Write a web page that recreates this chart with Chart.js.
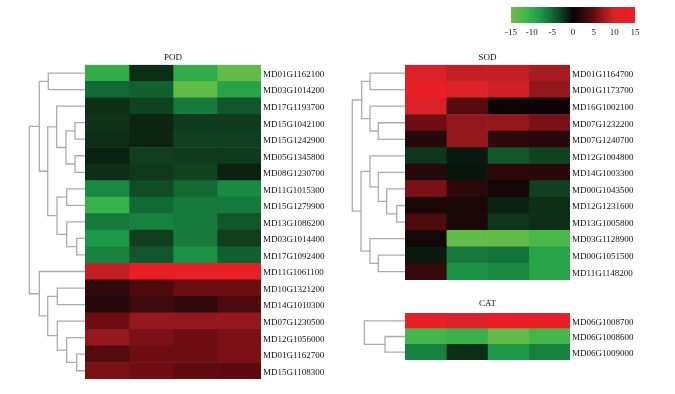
<!DOCTYPE html>
<html>
<head>
<meta charset="utf-8">
<script src="https://cdn.jsdelivr.net/npm/chart.js@4.4.1/dist/chart.umd.min.js"></script>
<style>
  body { margin: 0; background: #fff; }
  #wrap { position: relative; width: 675px; height: 394px; overflow: hidden; }
  canvas { position: absolute; }
</style>
</head>
<body>
<div id="wrap">
  <canvas id="podTree" style="left:25px;top:0;width:60px;height:394px" width="60" height="394"></canvas>
  <canvas id="podHeat" style="left:85px;top:0;width:251px;height:394px" width="251" height="394"></canvas>
  <canvas id="sodTree" style="left:349px;top:0;width:56px;height:290px" width="56" height="290"></canvas>
  <canvas id="sodHeat" style="left:405px;top:0;width:240px;height:290px" width="240" height="290"></canvas>
  <canvas id="catTree" style="left:349px;top:285px;width:56px;height:85px" width="56" height="85"></canvas>
  <canvas id="catHeat" style="left:405px;top:285px;width:240px;height:85px" width="240" height="85"></canvas>
  <canvas id="scaleChart" style="left:490px;top:0;width:175px;height:45px" width="175" height="45"></canvas>
</div>
<script>
// heat values (4 columns per gene)
const podGenes = ['MD01G1162100', 'MD03G1014200', 'MD17G1193700', 'MD15G1042100', 'MD15G1242900',
  'MD05G1345800', 'MD08G1230700', 'MD11G1015300', 'MD15G1279900', 'MD13G1086200', 'MD03G1014400',
  'MD17G1092400', 'MD11G1061100', 'MD10G1321200', 'MD14G1010300', 'MD07G1230500', 'MD12G1056000',
  'MD01G1162700', 'MD15G1108300'];
const podValues = [
  [-10, -2, -10, -14],
  [-5, -4.5, -14, -9],
  [-2, -3, -6, -4],
  [-2.2, -1.5, -2.6, -2.6],
  [-2, -1.5, -2.8, -2.8],
  [-1.3, -2.7, -2.6, -2.5],
  [-2, -2.4, -3, -1.3],
  [-7, -3.5, -5, -7],
  [-10.5, -5, -6, -6],
  [-6, -6.5, -6, -4],
  [-8, -2.7, -6, -2.7],
  [-6.5, -4, -7.5, -4.5],
  [9, 14, 14, 14],
  [2.5, 4, 5.3, 5.3],
  [2, 3.2, 2.5, 4],
  [5.5, 7, 7, 7],
  [7, 6, 5.5, 6],
  [4.2, 5.5, 5.5, 6],
  [6, 5.5, 5, 4.8]
];
// merges: [childA, childB, height]; ids >= n are earlier merges
const podMerges = [
  [0, 1, 36.7], [3, 4, 10], [5, 6, 10], [20, 21, 19], [2, 22, 28.3],
  [7, 8, 18.3], [10, 11, 8.3], [9, 25, 18.3], [24, 26, 28], [23, 27, 37.3],
  [19, 28, 45.7], [17, 18, 8.3], [16, 30, 18.3], [15, 31, 27.7], [13, 14, 27.7],
  [33, 32, 37.3], [12, 34, 45.7], [29, 35, 55.7]
];

const sodGenes = ['MD01G1164700', 'MD01G1173700', 'MD16G1002100', 'MD07G1232200', 'MD07G1240700',
  'MD12G1004800', 'MD14G1003300', 'MD00G1043500', 'MD12G1231600', 'MD13G1005800', 'MD03G1128900',
  'MD00G1051500', 'MD11G1148200'];
const sodValues = [
  [10, 9, 9, 7.8],
  [14, 10.5, 9.5, 7],
  [10, 4.5, 0.5, 0.5],
  [5.5, 7, 7, 6],
  [1.8, 7, 2.2, 2],
  [-2.3, -1, -4, -3],
  [2, -0.8, 2.2, 2],
  [6, 2.2, 0.8, -2.8],
  [1.2, 1.2, -1.3, -2],
  [4, 1.3, -2.3, -2],
  [1, -14, -14, -12],
  [-1, -6, -5.6, -9],
  [2.8, -7.5, -7, -9]
];
const sodMerges = [
  [0, 1, 35], [3, 4, 26.7], [2, 14, 35], [13, 15, 43.3], [8, 9, 8.3], [7, 17, 18.3],
  [6, 18, 26.7], [5, 19, 35], [11, 12, 26.7], [10, 21, 35], [20, 22, 44], [16, 23, 52.7]
];

const catGenes = ['MD06G1008700', 'MD06G1008600', 'MD06G1009000'];
const catValues = [
  [14, 10, 14, 14],
  [-11.5, -10.5, -14, -11.5],
  [-6.5, -2, -8, -6.5]
];
const catMerges = [[1, 2, 20], [0, 3, 40.7]];

const scaleRange = [-15, 15];

// colour map green - black - red
const cmapStops = [
  [-15, '#6dbf46'], [-11, '#3cb54a'], [-8, '#1c9a47'], [-5, '#116a35'], [-2.5, '#103a1c'],
  [0, '#050505'], [2.5, '#300a0c'], [5, '#620b10'], [7.5, '#a01a21'], [10, '#dc2027'], [15, '#ee1f24']
];

function hexRgb(h) {
  return [parseInt(h.slice(1, 3), 16), parseInt(h.slice(3, 5), 16), parseInt(h.slice(5, 7), 16)];
}

function colorFor(v) {
  v = Math.max(-15, Math.min(15, v));
  for (let i = 1; i < cmapStops.length; i++) {
    const [v1, c1] = cmapStops[i];
    const [v0, c0] = cmapStops[i - 1];
    if (v <= v1) {
      const t = (v - v0) / (v1 - v0);
      const a = hexRgb(c0), b = hexRgb(c1);
      const rgb = a.map((x, k) => Math.round(x + (b[k] - x) * t));
      return 'rgb(' + rgb.join(',') + ')';
    }
  }
  return cmapStops[cmapStops.length - 1][1];
}

function dendroPoints(merges, n) {
  const pos = [];
  for (let i = 0; i < n; i++) pos.push([0, i]);
  const pts = [];
  merges.forEach(([a, b, h]) => {
    const [ha, ya] = pos[a];
    const [hb, yb] = pos[b];
    pts.push({x: -ha, y: ya}, {x: -h, y: ya}, {x: -h, y: yb}, {x: -hb, y: yb}, {x: null, y: null});
    pos.push([h, (ya + yb) / 2]);
  });
  return pts;
}

const serif = 'Liberation Serif';
const noPlugins = {legend: {display: false}, tooltip: {enabled: false}};

function makeHeat(id, title, genes, values, lay) {
  const datasets = [];
  for (let j = 0; j < 4; j++) {
    datasets.push({
      data: genes.map(() => [j, j + 1]),
      backgroundColor: values.map(row => colorFor(row[j])),
      borderWidth: 0,
      grouped: false,
      barPercentage: 1,
      categoryPercentage: 1
    });
  }
  return new Chart(document.getElementById(id), {
    type: 'bar',
    data: {labels: genes, datasets: datasets},
    options: {
      indexAxis: 'y',
      responsive: false,
      animation: false,
      events: [],
      layout: {padding: lay.pad},
      plugins: Object.assign({
        title: {
          display: true,
          fullSize: false,
          text: title,
          color: '#111',
          font: {family: serif, size: 9, weight: 'normal'},
          padding: {top: 0, bottom: lay.titleGap}
        }
      }, noPlugins),
      scales: {
        x: {type: 'linear', display: false, min: 0, max: 4},
        y: {
          type: 'category',
          position: 'right',
          offset: true,
          grid: {display: false, drawTicks: false},
          border: {display: false},
          ticks: {color: '#111', padding: 2, labelOffset: 1.5, font: {family: serif, size: 9}},
          afterFit: scale => { scale.width = 75; }
        }
      }
    }
  });
}

function makeTree(id, genes, merges, lay) {
  return new Chart(document.getElementById(id), {
    type: 'scatter',
    data: {
      datasets: [{
        data: dendroPoints(merges, genes.length),
        showLine: true,
        spanGaps: false,
        borderColor: '#ababab',
        borderWidth: 1.3,
        pointRadius: 0,
        clip: 2
      }]
    },
    options: {
      responsive: false,
      animation: false,
      events: [],
      layout: {padding: lay.pad},
      plugins: noPlugins,
      scales: {
        x: {type: 'linear', display: false, min: -lay.width, max: 0},
        y: {type: 'linear', display: false, reverse: true, min: -0.5, max: genes.length - 0.5}
      }
    }
  });
}

makeHeat('podHeat', 'POD', podGenes, podValues, {titleGap: 2, pad: {left: 0, right: 0, top: 52, bottom: 15}});
makeTree('podTree', podGenes, podMerges, {width: 57, pad: {left: 3, right: 0, top: 64.8, bottom: 15}});

makeHeat('sodHeat', 'SOD', sodGenes, sodValues, {titleGap: 2, pad: {left: 0, right: 0, top: 52, bottom: 10}});
makeTree('sodTree', sodGenes, sodMerges, {width: 53, pad: {left: 3, right: 0, top: 64.8, bottom: 10}});

makeHeat('catHeat', 'CAT', catGenes, catValues, {titleGap: 4, pad: {left: 0, right: 0, top: 13.2, bottom: 10}});
makeTree('catTree', catGenes, catMerges, {width: 53, pad: {left: 3, right: 0, top: 28, bottom: 10}});

// colour key
new Chart(document.getElementById('scaleChart'), {
  type: 'bar',
  data: {
    labels: [''],
    datasets: [{
      data: [scaleRange],
      borderWidth: 0,
      barPercentage: 1,
      categoryPercentage: 1,
      backgroundColor: ctx => {
        const chart = ctx.chart;
        if (!chart.chartArea) return '#000';
        const x = chart.scales.x;
        const x0 = x.getPixelForValue(scaleRange[0]);
        const x1 = x.getPixelForValue(scaleRange[1]);
        const g = chart.ctx.createLinearGradient(x0, 0, x1, 0);
        cmapStops.forEach(([v, c]) => g.addColorStop((v - scaleRange[0]) / (scaleRange[1] - scaleRange[0]), c));
        return g;
      }
    }]
  },
  options: {
    indexAxis: 'y',
    responsive: false,
    animation: false,
    events: [],
    layout: {padding: {left: 21, right: 30, top: 7, bottom: 0}},
    plugins: noPlugins,
    scales: {
      x: {
        type: 'linear',
        min: scaleRange[0],
        max: scaleRange[1],
        grid: {display: false, drawTicks: false},
        border: {display: false},
        ticks: {stepSize: 5, padding: 4, color: '#222', font: {family: serif, size: 9}},
        afterFit: scale => { scale.height = 22; }
      },
      y: {display: false}
    }
  }
});
</script>
</body>
</html>
